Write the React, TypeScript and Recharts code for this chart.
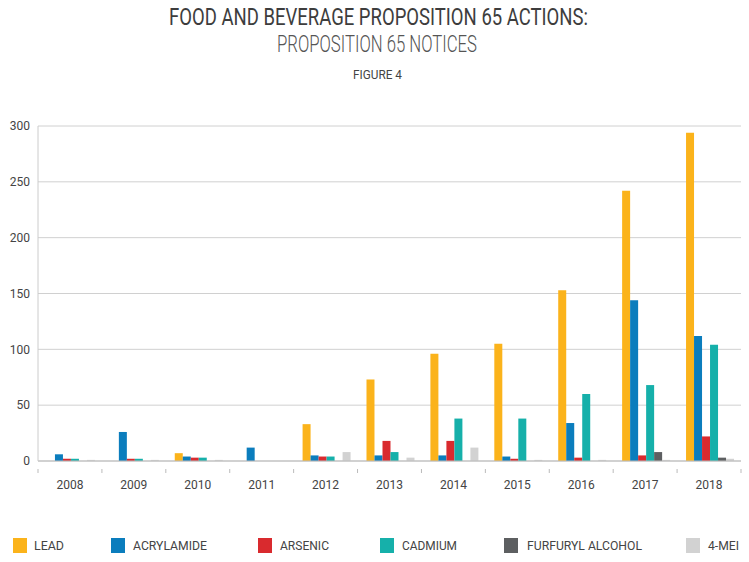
import { BarChart, Bar, XAxis, YAxis, CartesianGrid } from 'recharts'

const years = ['2008', '2009', '2010', '2011', '2012', '2013', '2014', '2015', '2016', '2017', '2018']
const lead = [0, 0, 7, 0, 33, 73, 96, 105, 153, 242, 294]
const acrylamide = [6, 26, 4, 12, 5, 5, 5, 4, 34, 144, 112]
const arsenic = [2, 2, 3, 0, 4, 18, 18, 2, 3, 5, 22]
const cadmium = [2, 2, 3, 0, 4, 8, 38, 38, 60, 68, 104]
const furfuryl = [0, 0, 0, 0, 0, 0, 0, 0, 0, 8, 3]
const mei = [1, 1, 1, 0, 8, 3, 12, 1, 1, 1, 2]
const yTicks = [0, 50, 100, 150, 200, 250, 300]

const series = [
  { key: 'lead', name: 'LEAD', color: '#FBB31B', values: lead },
  { key: 'acrylamide', name: 'ACRYLAMIDE', color: '#0B7DBD', values: acrylamide },
  { key: 'arsenic', name: 'ARSENIC', color: '#D92A2E', values: arsenic },
  { key: 'cadmium', name: 'CADMIUM', color: '#16B0AA', values: cadmium },
  { key: 'furfuryl', name: 'FURFURYL ALCOHOL', color: '#5D5F61', values: furfuryl },
  { key: 'mei', name: '4-MEI', color: '#D2D2D2', values: mei },
]

const data = years.map((year, i) => {
  const row: Record<string, string | number> = { year }
  series.forEach(s => { row[s.key] = s.values[i] })
  return row
})

const font = 'Roboto, sans-serif'
const band = 703 / years.length

// year label plus a small tick at the left boundary of each category
function YearTick(props: any) {
  const { x, y, payload, index } = props
  return (
    <g>
      <line x1={x - band / 2} x2={x - band / 2} y1={y} y2={y + 4} stroke="#bbb" />
      {index === years.length - 1 && (
        <line x1={x + band / 2} x2={x + band / 2} y1={y} y2={y + 4} stroke="#bbb" />
      )}
      <text x={x} y={y + 11} dy="0.71em" textAnchor="middle" fontSize={12} fill="#444" fontFamily={font}>
        {payload.value}
      </text>
    </g>
  )
}

// legend layout: square left edge, text left edge, text width (narrow display font squeezed to fit)
const legendBox = [13, 111, 258, 380, 504, 686]
const legendText = [34, 133, 280, 402, 527, 708]
const legendWidth = [30, 74, 49, 55, 115, 31]

export default function App() {
  return (
    <div style={{ position: 'absolute', left: 0, top: 0, width: 749, height: 562, background: '#fff' }}>
      <div style={{ position: 'absolute', top: 100, left: 0 }}>
        <BarChart width={749} height={400} data={data} margin={{ top: 26, right: 8, left: 8, bottom: 9 }}
          barCategoryGap="14%" barGap={0}>
          <CartesianGrid vertical={false} stroke="#d0d0d0" />
          <XAxis dataKey="year" axisLine={{ stroke: '#bbb' }} tickLine={false} tick={<YearTick />} height={30} interval={0} />
          <YAxis domain={[0, 300]} ticks={yTicks} width={30} axisLine={{ stroke: '#ccc' }} tickLine={false}
            tickSize={0} tickMargin={8} tick={{ fontSize: 12, fill: '#444', fontFamily: font }} />
          {series.map(s => (
            <Bar key={s.key} dataKey={s.key} name={s.name} fill={s.color} isAnimationActive={false} />
          ))}
        </BarChart>
      </div>
      <svg width={749} height={562} style={{ position: 'absolute', left: 0, top: 0, pointerEvents: 'none' }}>
        <text x={169} y={25} fontSize={24} fontWeight={400} fill="#3d3d3d" fontFamily={font}
          textLength={419} lengthAdjust="spacingAndGlyphs">
          FOOD AND BEVERAGE PROPOSITION 65 ACTIONS:
        </text>
        <text x={277} y={52} fontSize={24.5} fontWeight={300} fill="#555" fontFamily={font}
          textLength={200} lengthAdjust="spacingAndGlyphs">
          PROPOSITION 65 NOTICES
        </text>
        <text x={353} y={79} fontSize={12.5} fontWeight={400} fill="#444" fontFamily={font}
          textLength={49} lengthAdjust="spacingAndGlyphs">
          FIGURE 4
        </text>
        {series.map((s, i) => (
          <g key={s.key}>
            <rect x={legendBox[i]} y={538} width={14} height={15} fill={s.color} />
            <text x={legendText[i]} y={550} fontSize={12.7} fill="#444" fontFamily={font}
              textLength={legendWidth[i]} lengthAdjust="spacingAndGlyphs">
              {s.name}
            </text>
          </g>
        ))}
      </svg>
    </div>
  )
}
